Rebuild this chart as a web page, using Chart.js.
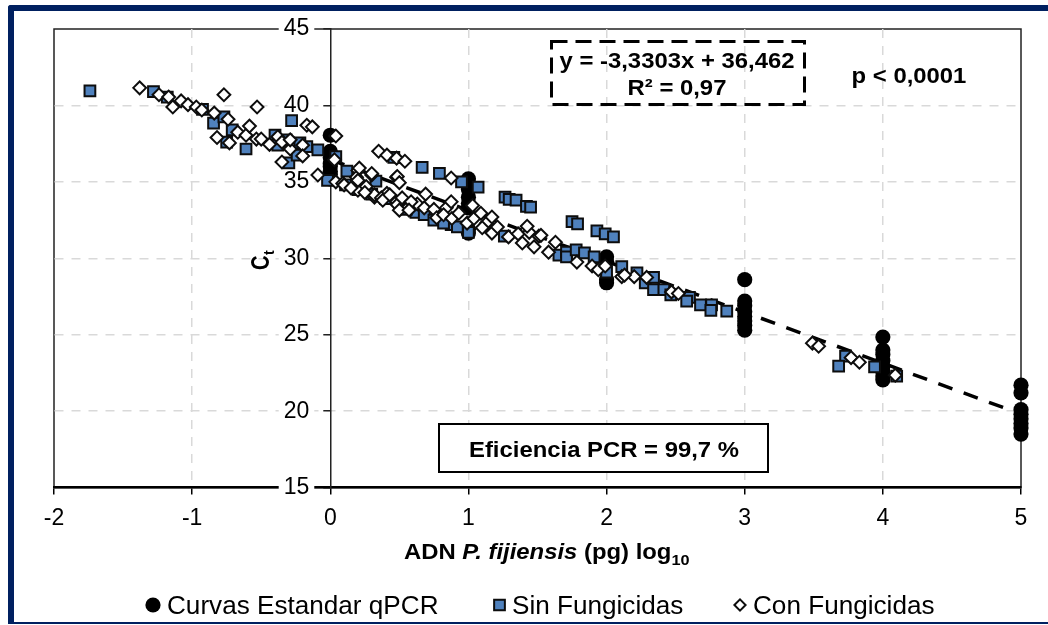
<!DOCTYPE html>
<html>
<head>
<meta charset="utf-8">
<title>Curva estandar qPCR</title>
<script src="https://cdn.jsdelivr.net/npm/chart.js@4"></script>
<style>
  html, body { margin: 0; padding: 0; background: #fff; overflow: hidden; }
  #frame {
    position: absolute; left: 8px; top: 5px; width: 1034px; height: 611px;
    border-top: 6px solid #002060; border-left: 6px solid #002060; border-bottom: 2px solid #002060;
    border-top-left-radius: 3px; box-sizing: content-box;
  }
  #chart { position: absolute; left: 0; top: 0; }
</style>
</head>
<body>
<div id="frame"></div>
<canvas id="chart" width="1048" height="625"></canvas>
<script>
const xTicks = [-2, -1, 0, 1, 2, 3, 4, 5];
const yTicks = [15, 20, 25, 30, 35, 40, 45];

const standardX = [0,0,0,0,0,0,0,0, 1,1,1,1,1,1,1,1, 2,2,2,2, 3,3,3,3,3,3,3,3, 4,4,4,4,4,4,4,4, 5,5,5,5,5,5,5,5];
const standardY = [38.05,37,36.6,36.2,36,35.7,35.5,35.2,
  35.2,34.9,34.5,34,33.6,33.3,31.9,31.65,
  30.1,29.8,28.6,28.4,
  28.6,27.2,26.9,26.5,26.2,25.9,25.6,25.3,
  24.85,24,23.7,23.3,22.9,22.6,22.3,22.05,
  21.7,21.2,20.1,19.8,19.5,19.2,18.9,18.5];

const sinX = [-1.74,-1.28,-1.18,-0.925,-0.845,-0.77,-0.71,-0.75,-0.61,-0.28,-0.4,-0.38,-0.32,-0.3,-0.22,-0.24,-0.17,-0.09,-0.02,0.04,0.12,0.11,0.33,0.46,
  0.665,0.79,0.95,1.07,1.265,1.295,1.345,1.42,1.45,1.75,1.79,1.93,1.99,2.05,
  0.62,0.68,0.875,0.92,1.0,1.26,1.655,1.71,1.71,1.78,1.84,1.91,2.0,2.11,2.22,2.28,2.34,2.34,
  2.415,2.465,2.6,2.58,2.68,2.76,2.755,2.87,3.73,3.68,3.94,4.1,
  0.2,0.3,0.4,0.5,0.55,0.75,0.82];
const sinY = [40.95,40.9,40.55,39.75,38.85,39.25,38.4,37.6,37.15,39,38.05,37.4,37.75,36.25,37.55,36.75,37.3,37.1,35.1,36.65,35.7,34.8,35.05,36.6,
  35.95,35.55,35,34.65,34,33.85,33.8,33.4,33.35,32.4,32.25,31.8,31.6,31.4,
  33,32.85,32.2,32.05,31.7,31.45,30.2,30.4,30.1,30.55,30.35,30.1,29.1,29.45,29.05,28.4,28.75,27.95,
  27.95,27.6,27.45,27.2,26.95,26.95,26.6,26.55,23.6,22.95,22.9,22.3,
  34.5,34.2,33.9,33.5,33.2,32.5,32.3];

const conX = [-1.38,-1.24,-1.17,-1.14,-1.08,-1.03,-0.97,-0.93,-0.84,-0.77,-0.74,-0.82,-0.73,-0.67,-0.61,-0.585,-0.53,-0.535,-0.5,-0.44,-0.38,-0.35,-0.29,-0.29,-0.35,-0.2,-0.2,-0.17,-0.13,-0.09,
  0.04,0.03,0.04,0.09,0.2,0.19,0.3,0.2,0.26,0.32,0.41,0.48,0.48,0.35,0.41,0.48,0.54,0.875,0.3,0.485,0.5,0.1,
  0.32,0.37,0.485,0.52,0.56,0.63,0.69,0.68,0.75,0.77,0.84,0.875,0.82,0.88,0.93,0.99,1.04,1.03,1.09,1.13,1.17,1.1,1.17,1.21,1.29,1.36,1.39,1.44,1.475,1.51,1.58,1.63,
  1.785,1.895,1.94,1.99,2.11,2.2,2.47,2.52,3.49,3.535,3.77,3.83,4.09,
  0.38,0.43,0.585,0.21,0.2,0.5,0.57,1.425,1.525,0.15,0.25,2.29,2.13];
const conY = [41.15,40.7,40.55,39.9,40.3,40.05,39.9,39.7,39.5,40.7,39.1,37.9,37.55,38.25,38.05,38.65,39.9,37.8,37.8,37.45,37.95,37.6,37.15,37.75,36.3,37.4,36.7,38.7,38.6,35.45,
  38,36.45,35,34.9,35.75,35.3,35.45,34.45,34.7,34,34.25,33.7,35.3,37,36.75,36.55,36.35,35.25,35.55,35.35,34.95,34.8,
  34.15,33.95,33.5,33.95,33.3,33.55,34.2,33.3,33.2,32.65,33.3,33.7,32.85,32.6,32.95,32.3,32.6,33.45,32.95,32.3,32.7,32,31.65,32.05,31.4,31.6,31,31.7,30.75,31.45,30.4,31.05,
  29.75,29.5,29.25,29.5,28.8,28.8,27.8,27.7,24.45,24.25,23.5,23.2,22.35,
  33.8,34.15,33.7,35.9,35.1,33.15,33.15,32.1,31.5,34.6,34.3,28.75,28.9];

const trendX = [0, 5];
const trendY = [36.46, 19.81];

const legendLabels = ['Curvas Estandar qPCR', 'Sin Fungicidas', 'Con Fungicidas'];

const toPoints = (xs, ys) => xs.map((x, i) => ({ x: x, y: ys[i] }));

// text from the picture is a bit wider than Arial, so stretch it a little
function stretchedText(ctx, text, x, y, font, align, stretch) {
    const sx = stretch || 1.085;
    ctx.save();
    ctx.font = font;
    ctx.fillStyle = '#000';
    ctx.textAlign = align || 'left';
    ctx.textBaseline = 'alphabetic';
    ctx.translate(x, y);
    ctx.scale(sx, 1);
    ctx.fillText(text, 0, 0);
    const w = ctx.measureText(text).width * sx;
    ctx.restore();
    return w;
}

const BOLD = 'bold 22px "Liberation Sans"';

const framePlugin = {
    id: 'plotFrame',
    beforeDraw(chart) {
        const ctx = chart.ctx, a = chart.chartArea;
        ctx.save();
        ctx.strokeStyle = '#222';
        ctx.lineWidth = 1.5;
        ctx.strokeRect(a.left, a.top, a.right - a.left, a.bottom - a.top);
        ctx.restore();
    },
    // the y axis crosses at x = 0
    afterLayout(chart) {
        const y = chart.scales.y;
        y.left = 0;
        y.right = chart.scales.x.getPixelForValue(0);
    }
};

const notesPlugin = {
    id: 'notes',
    afterDraw(chart) {
        const ctx = chart.ctx;

        // caja de la ecuacion
        ctx.save();
        ctx.strokeStyle = '#000';
        ctx.lineWidth = 3;
        ctx.setLineDash([16, 8]);
        ctx.strokeRect(551.5, 41.5, 253, 63);
        ctx.restore();
        stretchedText(ctx, 'y = -3,3303x + 36,462', 677, 68, BOLD, 'center');
        stretchedText(ctx, 'R² = 0,97', 677, 95, BOLD, 'center');
        stretchedText(ctx, 'p < 0,0001', 909, 83, BOLD, 'center');

        // caja de eficiencia
        ctx.save();
        ctx.fillStyle = '#fff';
        ctx.strokeStyle = '#000';
        ctx.lineWidth = 2;
        ctx.fillRect(439, 424, 329, 48);
        ctx.strokeRect(439, 424, 329, 48);
        ctx.restore();
        stretchedText(ctx, 'Eficiencia PCR = 99,7 %', 604, 457, BOLD, 'center');

        // titulo eje x, con cursiva y subindice
        let x = 404;
        x += stretchedText(ctx, 'ADN ', x, 559, BOLD);
        x += stretchedText(ctx, 'P. fijiensis', x, 559, 'italic ' + BOLD);
        x += stretchedText(ctx, ' (pg) log', x, 559, BOLD);
        stretchedText(ctx, '10', x, 565, 'bold 15px "Liberation Sans"');

        // titulo eje y
        ctx.save();
        ctx.translate(269, 270);
        ctx.rotate(-Math.PI / 2);
        ctx.fillStyle = '#000';
        ctx.save();
        ctx.scale(0.8, 1);
        ctx.font = 'bold 25px "Liberation Sans"';
        ctx.textBaseline = 'alphabetic';
        ctx.fillText('C', 0, 0);
        ctx.restore();
        ctx.font = 'bold 14px "Liberation Sans"';
        ctx.fillText('t', 15, 5);
        ctx.restore();

        // leyenda
        const legendFont = '25px "Liberation Sans"';
        const iconY = 605;
        const iconX = [153, 499.5, 740];
        const textX = [167, 512, 753];
        const iconRadius = [7.6, 7.6, 5.6];
        chart.data.datasets.slice(0, 3).forEach((ds, i) => {
            ctx.save();
            ctx.fillStyle = ds.backgroundColor;
            ctx.strokeStyle = ds.borderColor;
            ctx.lineWidth = ds.borderWidth;
            Chart.helpers.drawPoint(ctx, { pointStyle: ds.pointStyle, radius: iconRadius[i], rotation: 0, borderWidth: ds.borderWidth }, iconX[i], iconY);
            ctx.restore();
            stretchedText(ctx, legendLabels[i], textX[i], iconY + 8.5, legendFont, 'left', 1.045);
        });
    }
};

new Chart(document.getElementById('chart').getContext('2d'), {
    type: 'scatter',
    data: {
        datasets: [
            { label: legendLabels[0], data: toPoints(standardX, standardY), pointStyle: 'circle', pointRadius: 7.6, borderWidth: 0, borderColor: '#000', backgroundColor: '#000', order: 3, clip: false },
            { label: legendLabels[1], data: toPoints(sinX, sinY), pointStyle: 'rect', pointRadius: 7.6, borderWidth: 2, borderColor: '#0d0d0d', backgroundColor: '#4f81bd', order: 2, clip: false },
            { label: legendLabels[2], data: toPoints(conX, conY), pointStyle: 'rectRot', pointRadius: 6.4, borderWidth: 2, borderColor: '#0d0d0d', backgroundColor: '#fff', order: 1, clip: false },
            { label: 'Lineal', data: toPoints(trendX, trendY), type: 'line', showLine: true, pointRadius: 0, borderColor: '#000', borderWidth: 3.5, borderDash: [15, 12], order: 4, clip: false }
        ]
    },
    options: {
        responsive: false,
        animation: false,
        layout: { padding: { left: 54, right: 27, top: 29, bottom: 92 } },
        scales: {
            x: {
                type: 'linear', min: -2, max: 5,
                afterBuildTicks: s => { s.ticks = xTicks.map(v => ({ value: v })); },
                afterFit: s => { s.height = 45.4; },
                ticks: { color: '#000', padding: 10, maxRotation: 0, font: { size: 23 } },
                grid: {
                    color: c => (c.tick.value === -2 || c.tick.value === 5 || c.tick.value === 0) ? 'transparent' : '#d9d9d9',
                    lineWidth: 1.5, tickColor: '#000', tickLength: 7, tickWidth: 1.5, tickBorderDash: []
                },
                border: { color: '#000', width: 2.5, dash: [9, 8] }
            },
            y: {
                type: 'linear', min: 15, max: 45,
                position: 'left',
                afterBuildTicks: s => { s.ticks = yTicks.map(v => ({ value: v })); },
                afterFit: s => { s.width = 0; },
                ticks: { color: '#000', padding: 14, font: { size: 23 }, showLabelBackdrop: true, backdropColor: '#fff', backdropPadding: { left: 5, right: 5, top: 0, bottom: 0 } },
                grid: {
                    color: c => (c.tick.value === 15 || c.tick.value === 45) ? 'transparent' : '#d9d9d9',
                    lineWidth: 1.5, tickColor: '#222', tickLength: 7, tickWidth: 1.5, tickBorderDash: []
                },
                border: { color: '#222', width: 1.5, dash: [9, 8] }
            }
        },
        plugins: {
            tooltip: { enabled: false },
            title: { display: false },
            legend: { display: false }
        }
    },
    plugins: [framePlugin, notesPlugin]
});
</script>
</body>
</html>
